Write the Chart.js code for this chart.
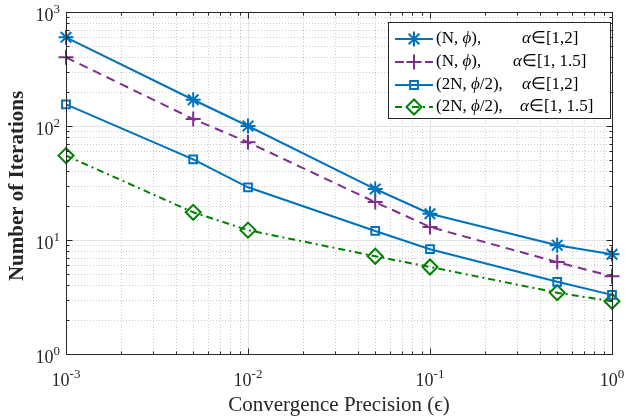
<!DOCTYPE html>
<html>
<head>
<meta charset="utf-8">
<script src="https://cdn.jsdelivr.net/npm/chart.js@4.4.0/dist/chart.umd.min.js"></script>
<style>
  html, body { margin: 0; padding: 0; background: #fff; }
  #wrap { width: 625px; height: 417px; }
</style>
</head>
<body>
<div id="wrap"><canvas id="iterChart" width="625" height="417"></canvas></div>
<script>
// convergence precision values (x) and iteration counts per series
const precision = [0.001, 0.005, 0.01, 0.05, 0.1, 0.5, 1];
const itersNPhiA2 = [600, 170, 100, 28, 17, 9, 7.5];
const itersNPhiA15 = [400, 115, 72, 21.5, 13, 6.4, 4.8];
const iters2NPhiA2 = [155, 51, 29, 12, 8.3, 4.3, 3.3];
const iters2NPhiA15 = [55, 17.5, 12.2, 7.2, 5.8, 3.45, 2.9];

const xTickExps = [-3, -2, -1, 0];
const yTickExps = [0, 1, 2, 3];

// legend text pieces: [first part, phi, rest, alpha range]
const legendLabels = [
  ['(N, ', 'ϕ', '),', '[1,2]'],
  ['(N, ', 'ϕ', '),', '[1, 1.5]'],
  ['(2N, ', 'ϕ', '/2),', '[1,2]'],
  ['(2N, ', 'ϕ', '/2),', '[1, 1.5]']
];

const FONT = "'Liberation Serif', 'Times New Roman', serif";
const BLUE = '#0072BD';
const PURPLE = '#7E2F8E';
const GREEN = '#008000';

function toPoints(vals) {
  return precision.map((x, i) => ({ x: x, y: vals[i] }));
}

// draw "10" with a superscript exponent
function drawPow(ctx, exp, x, y, align) {
  const base = '10', sup = String(exp);
  ctx.font = '18px ' + FONT;
  const wb = ctx.measureText(base).width;
  ctx.font = '13px ' + FONT;
  const ws = ctx.measureText(sup).width;
  let x0 = x;
  if (align === 'right') x0 = x - wb - ws;
  else if (align === 'center') x0 = x - (wb + ws) / 2;
  ctx.textAlign = 'left';
  ctx.textBaseline = 'alphabetic';
  ctx.font = '18px ' + FONT;
  ctx.fillText(base, x0, y);
  ctx.font = '13px ' + FONT;
  ctx.fillText(sup, x0 + wb, y - 8);
}

const axesPlugin = {
  id: 'matlabAxes',
  beforeDatasetsDraw(chart) {
    const { ctx, chartArea: a, scales } = chart;
    ctx.save();
    ctx.lineWidth = 1;
    // minor dotted grid
    ctx.strokeStyle = 'rgba(0,0,0,0.2)';
    ctx.setLineDash([1, 2]);
    for (let e = -3; e < 0; e++) {
      for (let m = 2; m <= 9; m++) {
        const px = Math.round(scales.x.getPixelForValue(m * Math.pow(10, e))) + 0.5;
        ctx.beginPath(); ctx.moveTo(px, a.top); ctx.lineTo(px, a.bottom); ctx.stroke();
      }
    }
    for (let e = 0; e < 3; e++) {
      for (let m = 2; m <= 9; m++) {
        const py = Math.round(scales.y.getPixelForValue(m * Math.pow(10, e))) + 0.5;
        ctx.beginPath(); ctx.moveTo(a.left, py); ctx.lineTo(a.right, py); ctx.stroke();
      }
    }
    // major solid grid
    ctx.setLineDash([]);
    ctx.strokeStyle = '#e3e3e3';
    xTickExps.forEach(e => {
      const px = Math.round(scales.x.getPixelForValue(Math.pow(10, e))) + 0.5;
      ctx.beginPath(); ctx.moveTo(px, a.top); ctx.lineTo(px, a.bottom); ctx.stroke();
    });
    yTickExps.forEach(e => {
      const py = Math.round(scales.y.getPixelForValue(Math.pow(10, e))) + 0.5;
      ctx.beginPath(); ctx.moveTo(a.left, py); ctx.lineTo(a.right, py); ctx.stroke();
    });
    ctx.restore();
  },
  afterDraw(chart) {
    const { ctx, chartArea: a, scales } = chart;
    ctx.save();
    ctx.strokeStyle = '#262626';
    ctx.fillStyle = '#262626';
    ctx.lineWidth = 1;
    const L = Math.round(a.left) + 0.5, R = Math.round(a.right) + 0.5;
    const T = Math.round(a.top) + 0.5, B = Math.round(a.bottom) + 0.5;
    ctx.strokeRect(L, T, R - L, B - T);

    // tick marks on all four sides
    ctx.beginPath();
    for (let e = -3; e <= 0; e++) {
      for (let m = 1; m <= 9; m++) {
        if (e === 0 && m > 1) break;
        const px = Math.round(scales.x.getPixelForValue(m * Math.pow(10, e))) + 0.5;
        const len = m === 1 ? 6 : 3;
        ctx.moveTo(px, B); ctx.lineTo(px, B - len);
        ctx.moveTo(px, T); ctx.lineTo(px, T + len);
      }
    }
    for (let e = 0; e <= 3; e++) {
      for (let m = 1; m <= 9; m++) {
        if (e === 3 && m > 1) break;
        const py = Math.round(scales.y.getPixelForValue(m * Math.pow(10, e))) + 0.5;
        const len = m === 1 ? 6 : 3;
        ctx.moveTo(L, py); ctx.lineTo(L + len, py);
        ctx.moveTo(R, py); ctx.lineTo(R - len, py);
      }
    }
    ctx.stroke();

    // tick labels
    xTickExps.forEach(e => {
      drawPow(ctx, e, scales.x.getPixelForValue(Math.pow(10, e)), a.bottom + 32, 'center');
    });
    yTickExps.forEach(e => {
      drawPow(ctx, e, a.left - 6, scales.y.getPixelForValue(Math.pow(10, e)) + 9, 'right');
    });

    // axis titles
    ctx.font = '21px ' + FONT;
    ctx.textAlign = 'center';
    ctx.textBaseline = 'alphabetic';
    ctx.fillText('Convergence Precision (ϵ)', (a.left + a.right) / 2, 411);
    ctx.save();
    ctx.translate(23, (a.top + a.bottom) / 2 + 3);
    ctx.rotate(-Math.PI / 2);
    ctx.font = 'bold 21px ' + FONT;
    ctx.fillText('Number of Iterations', 0, 0);
    ctx.restore();

    // legend
    const box = { x: 388.5, y: 22.5, w: 222, h: 96 };
    ctx.fillStyle = '#fff';
    ctx.fillRect(box.x, box.y, box.w, box.h);
    ctx.strokeStyle = '#262626';
    ctx.strokeRect(box.x, box.y, box.w, box.h);
    const rowY = [39, 62, 85, 107];
    const alphaX = [522, 513, 522, 520];
    chart.data.datasets.forEach((ds, i) => {
      const y = rowY[i];
      ctx.save();
      ctx.strokeStyle = ds.borderColor;
      ctx.fillStyle = 'rgba(0,0,0,0)';
      ctx.lineWidth = ds.borderWidth;
      ctx.setLineDash(ds.borderDash || []);
      ctx.beginPath(); ctx.moveTo(395, y); ctx.lineTo(433, y); ctx.stroke();
      ctx.setLineDash([]);
      ctx.lineWidth = ds.pointBorderWidth;
      Chart.helpers.drawPoint(ctx, {
        pointStyle: ds.pointStyle, radius: ds.pointRadius, borderWidth: ds.pointBorderWidth, rotation: 0
      }, 414, y);
      ctx.restore();

      const parts = legendLabels[i];
      ctx.fillStyle = '#000';
      ctx.textAlign = 'left';
      ctx.textBaseline = 'middle';
      let x = 436;
      ctx.font = '17px ' + FONT;
      ctx.fillText(parts[0], x, y); x += ctx.measureText(parts[0]).width;
      ctx.font = 'italic 17px ' + FONT;
      ctx.fillText(parts[1], x, y); x += ctx.measureText(parts[1]).width;
      ctx.font = '17px ' + FONT;
      ctx.fillText(parts[2], x, y);
      x = alphaX[i];
      ctx.font = 'italic 17px ' + FONT;
      ctx.fillText('α', x, y); x += ctx.measureText('α').width;
      ctx.font = '17px ' + FONT;
      ctx.fillText('∈' + parts[3], x, y);
    });
    ctx.restore();
  }
};

function series(label, vals, color, style, radius, dash) {
  return {
    label: label,
    data: toPoints(vals),
    borderColor: color,
    backgroundColor: 'rgba(0,0,0,0)',
    pointBackgroundColor: 'rgba(0,0,0,0)',
    pointBorderColor: color,
    borderWidth: 2,
    pointBorderWidth: 2,
    pointStyle: style,
    pointRadius: radius,
    pointHoverRadius: radius,
    borderDash: dash,
    tension: 0,
    clip: false
  };
}

new Chart(document.getElementById('iterChart').getContext('2d'), {
  type: 'line',
  data: {
    datasets: [
      series('(N, ϕ), α∈[1,2]', itersNPhiA2, BLUE, 'star', 7.5, []),
      series('(N, ϕ), α∈[1, 1.5]', itersNPhiA15, PURPLE, 'cross', 7.5, [9, 6]),
      series('(2N, ϕ/2), α∈[1,2]', iters2NPhiA2, BLUE, 'rect', 5.5, []),
      series('(2N, ϕ/2), α∈[1, 1.5]', iters2NPhiA15, GREEN, 'rectRot', 7.5, [7, 4, 2, 4])
    ]
  },
  options: {
    responsive: false,
    animation: false,
    devicePixelRatio: 1,
    layout: { padding: { left: 66, right: 13, top: 12, bottom: 63 } },
    plugins: { legend: { display: false }, tooltip: { enabled: false } },
    scales: {
      x: { type: 'logarithmic', min: 0.001, max: 1, display: false },
      y: { type: 'logarithmic', min: 1, max: 1000, display: false }
    }
  },
  plugins: [axesPlugin]
});
</script>
</body>
</html>
